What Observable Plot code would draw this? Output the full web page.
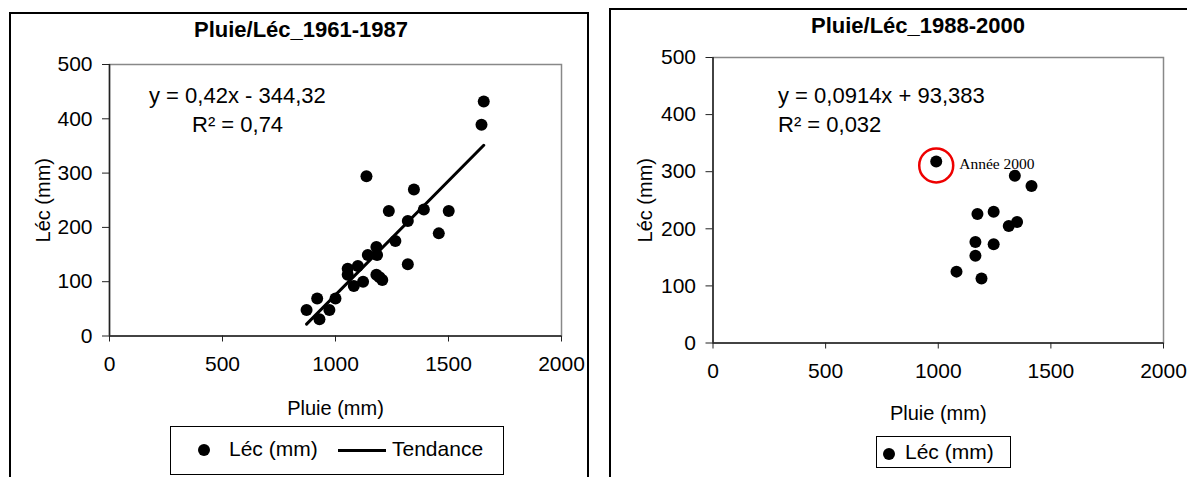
<!DOCTYPE html>
<html><head><meta charset="utf-8">
<script src="https://cdn.jsdelivr.net/npm/d3@7"></script>
<script src="https://cdn.jsdelivr.net/npm/@observablehq/plot@0.6"></script>
<style>
body{margin:0;width:1187px;height:477px;overflow:hidden;position:relative;background:#fff;font-family:"Liberation Sans",Arial,sans-serif;color:#000;}
.frame{position:absolute;border:2px solid #000;box-sizing:border-box;}
.abs{position:absolute;white-space:nowrap;}
.title{font-weight:bold;font-size:22px;transform:translateX(-50%);}
.eq{font-size:22px;}
.legend{position:absolute;border:1px solid #000;box-sizing:border-box;background:#fff;font-size:21px;}
</style></head><body>
<script>
// ---- data ----
const xTicks = [0, 500, 1000, 1500, 2000];
const yTicks = [0, 100, 200, 300, 400, 500];
const titles = ["Pluie/Léc_1961-1987", "Pluie/Léc_1988-2000"];
const xLabel = "Pluie (mm)";
const yLabel = "Léc (mm)";
// 1961-1987
const pluie1 = [1656, 1646, 1137, 1347, 1236, 1391, 1501, 1320, 1457, 1265, 1181, 1184, 1143, 1099, 1054, 1054, 1320, 1181, 1207, 1122, 1081, 1000, 919, 973, 872, 929, 1195];
const lec1   = [432, 389, 294, 270, 230, 233, 230, 212, 189, 175, 164, 149, 149, 129, 124, 113, 132, 113, 103, 100, 92, 69, 69, 48, 48, 31, 108];
const slope1 = 0.42, intercept1 = -344.32;
const eq1 = ["y = 0,42x - 344,32", "R² = 0,74"];
// 1988-2000
const pluie2 = [991, 1340, 1414, 1174, 1246, 1350, 1313, 1165, 1246, 1165, 1081, 1192];
const lec2   = [318, 293, 275, 226, 230, 212, 205, 177, 173, 153, 125, 113];
const highlightIndex = 0;
const highlightLabel = "Année 2000";
const eq2 = ["y = 0,0914x + 93,383", "R² = 0,032"];
const legend1 = ["Léc (mm)", "Tendance"];
const legend2 = ["Léc (mm)"];

function el(html, cls, style){const d=document.createElement("div");d.className=cls;d.innerHTML=html;d.setAttribute("style",style);document.body.appendChild(d);return d;}

// frames
el("", "frame", "left:9px;top:12px;width:580px;height:480px");
el("", "frame", "left:609px;top:8px;width:600px;height:480px");

function makeChart(opts){
  const {data, left, top, width, height, margins, xOff, yOff, extra} = opts;
  const p = Plot.plot({
    width, height,
    marginLeft: margins[0], marginRight: margins[1], marginTop: margins[2], marginBottom: margins[3],
    style:{fontFamily:'"Liberation Sans",Arial,sans-serif', fontSize:"21px", fontWeight:"normal", color:"#000", background:"transparent", overflow:"visible"},
    x:{domain:[0,2000]},
    y:{domain:[0,500]},
    marks:[
      Plot.frame({stroke:"#888", strokeWidth:1.5}),
      Plot.axisX({ticks:xTicks, tickSize:6, tickPadding:14, tickFormat:d=>String(d), stroke:"#222", fontSize:21, label:null}),
      Plot.axisX({ticks:[], label:xLabel, labelAnchor:"center", labelArrow:"none", labelOffset:xOff, fontSize:20}),
      Plot.axisY({ticks:yTicks, tickSize:7, tickPadding:10, tickFormat:d=>String(d), stroke:"#222", fontSize:21, label:null}),
      Plot.axisY({ticks:[], label:yLabel, labelAnchor:"center", labelArrow:"none", labelOffset:yOff, fontSize:20}),
      Plot.ruleX([0], {stroke:"#222", strokeWidth:1.5}),
      Plot.ruleY([0], {stroke:"#222", strokeWidth:1.5}),
      ...(extra || []),
      Plot.dot(data, {x:"x", y:"y", r:6, fill:"#000", stroke:"none"})
    ]
  });
  p.style.position = "absolute"; p.style.left = left+"px"; p.style.top = top+"px";
  document.body.appendChild(p);
}

// chart 1
const d1 = pluie1.map((x,i)=>({x, y:lec1[i]}));
const xr = d3.extent(pluie1);
const trend = xr.map(x=>({x, y: slope1*x + intercept1}));
makeChart({data:d1, left:10, top:13, width:578, height:464, margins:[99,27,51,141.5], xOff:79, yOff:74,
  extra:[Plot.line(trend, {x:"x", y:"y", stroke:"#000", strokeWidth:3})]});

// chart 2
const d2 = pluie2.map((x,i)=>({x, y:lec2[i]}));
const hi = [d2[highlightIndex]];
makeChart({data:d2, left:611, top:10, width:576, height:467, margins:[101.5,24,47,134.5], xOff:77, yOff:75,
  extra:[
    Plot.dot(hi, {x:"x", y:"y", r:17, dy:4, stroke:"#e00", strokeWidth:2.5, fill:"none"}),
    Plot.text(hi, {x:"x", y:"y", text:()=>highlightLabel, textAnchor:"start", dx:23, dy:3, fontFamily:'"Liberation Serif","Times New Roman",serif', fontSize:15.5, fill:"#000"})
  ]});

// titles
el(titles[0], "abs title", "left:301px;top:17px");
el(titles[1], "abs title", "left:918px;top:13px");
// equations
el(eq1[0], "abs eq", "left:149px;top:83px");
el(eq1[1], "abs eq", "left:192px;top:112px");
el(eq2[0], "abs eq", "left:778px;top:83px");
el(eq2[1], "abs eq", "left:778px;top:112px");

// legends
el('<span class="abs" style="left:27px;top:17px;width:12px;height:12px;border-radius:50%;background:#000"></span>'+
   '<span class="abs" style="left:58px;top:10px">'+legend1[0]+'</span>'+
   '<span class="abs" style="left:167px;top:22px;width:48px;height:3px;background:#000"></span>'+
   '<span class="abs" style="left:221px;top:10px">'+legend1[1]+'</span>',
   "legend", "left:170px;top:426px;width:334px;height:49px");
el('<span class="abs" style="left:6px;top:11px;width:12px;height:12px;border-radius:50%;background:#000"></span>'+
   '<span class="abs" style="left:28px;top:3px">'+legend2[0]+'</span>',
   "legend", "left:876px;top:436px;width:135px;height:32px");
</script>
</body></html>
